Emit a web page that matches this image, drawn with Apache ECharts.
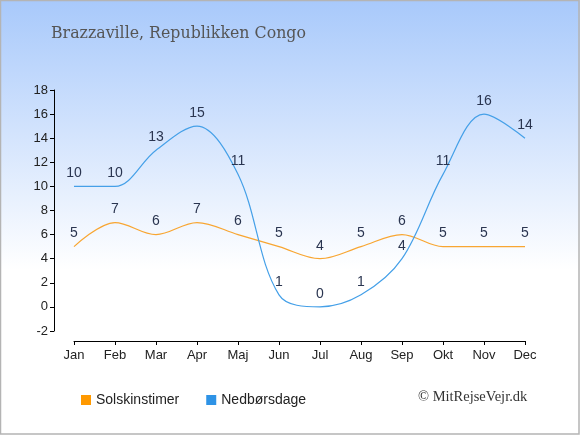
<!DOCTYPE html>
<html><head><meta charset="utf-8">
<script src="https://cdn.jsdelivr.net/npm/echarts@6/dist/echarts.min.js"></script>
<style>html,body{margin:0;padding:0;background:#fff}#c{width:580px;height:435px}</style>
</head><body><div id="c"></div>
<script>
var months = ['Jan','Feb','Mar','Apr','Maj','Jun','Jul','Aug','Sep','Okt','Nov','Dec'];
var solskinstimer = [5,7,6,7,6,5,4,5,6,5,5,5];
var nedboersdage = [10,10,13,15,11,1,0,1,4,11,16,14];
var yTicks = {min:-2, max:18, interval:2};

var chart = echarts.init(document.getElementById('c'), null, {renderer:'canvas'});
var labelStyle = {show:true, position:'top', distance:6, color:'#2a3550', fontSize:14, fontFamily:'Liberation Sans, Arial, sans-serif'};
chart.setOption({
  animation:false,
  backgroundColor:{type:'linear',x:0,y:0,x2:0,y2:1,colorStops:[
    {offset:0,color:'#a8c9fb'},{offset:0.3,color:'#d2e3fd'},{offset:0.62,color:'#ffffff'},{offset:1,color:'#ffffff'}]},
  title:{text:'Brazzaville, Republikken Congo', left:46, top:21,
    textStyle:{fontFamily:'DejaVu Serif, serif', fontWeight:'normal', fontSize:15.8, color:'#555'}},
  grid:{left:74, right:55, top:90, bottom:104, containLabel:false},
  legend:{left:76, top:388, itemWidth:10, itemHeight:10, itemGap:27, icon:'rect',
    textStyle:{fontSize:14, color:'#222', fontFamily:'Liberation Sans, Arial, sans-serif'},
    data:[{name:'Solskinstimer', itemStyle:{color:'#ff9900'}},{name:'Nedbørsdage', itemStyle:{color:'#2e93e6'}}]},
  xAxis:{type:'category', data:months, boundaryGap:false, offset:10,
    axisLine:{onZero:false, lineStyle:{color:'#000', width:1}}, axisTick:{show:true, length:4, inside:false, lineStyle:{color:'#000'}},
    axisLabel:{color:'#222', fontSize:13, margin:8, fontFamily:'Liberation Sans, Arial, sans-serif'}, splitLine:{show:false}},
  yAxis:{type:'value', min:yTicks.min, max:yTicks.max, interval:yTicks.interval, offset:20,
    axisLine:{show:true, lineStyle:{color:'#000', width:1}}, axisTick:{show:true, length:4, lineStyle:{color:'#000'}},
    axisLabel:{color:'#222', fontSize:13, margin:6, fontFamily:'Liberation Sans, Arial, sans-serif'}, splitLine:{show:false}},
  series:[
    {name:'Solskinstimer', type:'line', data:solskinstimer, smooth:0.35, symbol:'circle', symbolSize:0.1, showSymbol:true,
      lineStyle:{color:'#f8a632', width:1.2}, itemStyle:{color:'#ff9900'}, label:labelStyle},
    {name:'Nedbørsdage', type:'line', data:nedboersdage, smooth:0.35, symbol:'circle', symbolSize:0.1, showSymbol:true,
      lineStyle:{color:'#45a0e8', width:1.2}, itemStyle:{color:'#2e93e6'}, label:labelStyle}
  ],
  graphic:[
    {type:'rect', shape:{x:0.5,y:0.5,width:578.5,height:433.5}, style:{fill:'none', stroke:'#b4b4b4', lineWidth:1.5}, silent:true},
    {type:'text', left:418, top:390, style:{text:'© MitRejseVejr.dk', fontFamily:'Liberation Serif, Times New Roman, serif', fontSize:14.5, fill:'#333'}}
  ]
});
</script></body></html>
